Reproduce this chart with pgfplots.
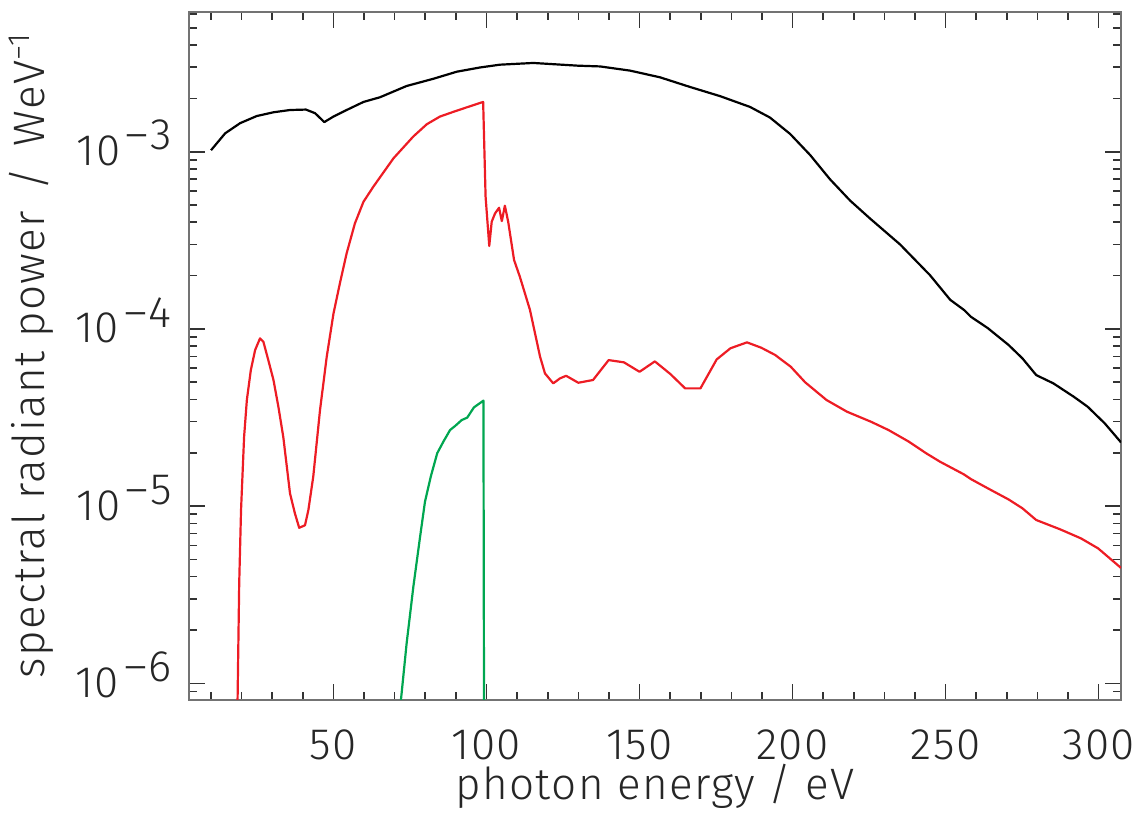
\documentclass[border=0pt]{standalone}
\usepackage{fontspec}
\setmainfont{Fira Sans Light}[LetterSpace=3]
\usepackage{pgfplots}
\pgfplotsset{compat=1.18}
\definecolor{cred}{HTML}{ED1C24}
\definecolor{cgreen}{HTML}{00A650}
\newcommand{\tenpow}[1]{10\raisebox{0.36em}{\kern0.12em–\kern0.04em#1}}
\begin{document}
\fontsize{22pt}{26pt}\selectfont
\begin{tikzpicture}
\begin{axis}[
  scale only axis,
  width=466.15pt, height=344pt,
  ymode=log,
  xmin=2.7, xmax=307.3,
  ymin=8.08e-7, ymax=6.17e-3,
  xtick={50,100,150,200,250,300},
  minor xtick={10,20,30,40,60,70,80,90,110,120,130,140,160,170,180,190,210,220,230,240,260,270,280,290},
  ytick={1e-6,1e-5,1e-4,1e-3},
  yticklabels={\tenpow{6},\tenpow{5},\tenpow{4},\tenpow{3}},
  minor ytick={9e-7,2e-6,3e-6,4e-6,5e-6,6e-6,7e-6,8e-6,9e-6,2e-5,3e-5,4e-5,5e-5,6e-5,7e-5,8e-5,9e-5,2e-4,3e-4,4e-4,5e-4,6e-4,7e-4,8e-4,9e-4,2e-3,3e-3,4e-3,5e-3,6e-3},
  tick align=inside,
  major tick length=8pt,
  minor tick length=4pt,
  axis line style={black!55, line width=1pt},
  tick style={black!80, line width=0.8pt},
  xticklabel style={anchor=base, inner sep=0pt, yshift=-30pt, font=\fontsize{22pt}{26pt}\selectfont, text=black!85},
  yticklabel style={anchor=base east, inner sep=0pt, xshift=-8.3pt, yshift=-7pt, font=\fontsize{22pt}{26pt}\selectfont, text=black!85},
  /pgf/number format/assume math mode=true,
  xlabel={photon energy / eV},
  ylabel={spectral radiant power \,/\, WeV\textsuperscript{−1}},
  every axis x label/.style={at={(axis description cs:0.5,-0.1453)}, anchor=base, font=\fontsize{22pt}{26pt}\selectfont, text=black!85},
  every axis y label/.style={at={(axis description cs:-0.1545,0.5)}, anchor=base, rotate=90, font=\fontsize{22pt}{26pt}\selectfont, text=black!85},
  every axis plot/.append style={line width=1.1pt, line join=round},
]
\addplot[black] coordinates {
(10.0,1.02e-3)(14.6,1.27e-3)(19.5,1.45e-3)(24.9,1.59e-3)(30.4,1.67e-3)(35.8,1.72e-3)(41.0,1.73e-3)(44.0,1.65e-3)(47.0,1.47e-3)(50.0,1.58e-3)(54.3,1.72e-3)(59.8,1.91e-3)(65.2,2.03e-3)(73.9,2.35e-3)(82.6,2.58e-3)(90.3,2.83e-3)(97.9,2.99e-3)(104.4,3.10e-3)(115.3,3.17e-3)(121.8,3.12e-3)(129.9,3.06e-3)(137.1,3.03e-3)(146.9,2.87e-3)(156.7,2.63e-3)(166.5,2.32e-3)(176.3,2.06e-3)(186.1,1.79e-3)(192.6,1.56e-3)(199.2,1.26e-3)(205.7,9.6e-4)(212.2,7.0e-4)(218.8,5.3e-4)(225.3,4.2e-4)(235.1,3.0e-4)(244.9,2.01e-4)(251.5,1.46e-4)(256.0,1.28e-4)(258.3,1.17e-4)(263.8,1.01e-4)(270.6,8.11e-5)(275.1,6.82e-5)(279.6,5.49e-5)(285.2,4.93e-5)(291.9,4.14e-5)(296.4,3.64e-5)(302.0,2.93e-5)(307.3,2.29e-5)
};
\addplot[cred] coordinates {
(18.5,5e-7)(19.2,3.66e-6)(19.8,9.5e-6)(20.8,2.46e-5)(21.7,3.97e-5)(23.0,5.86e-5)(24.4,7.60e-5)(26.0,8.85e-5)(27.1,8.47e-5)(28.7,6.68e-5)(30.4,5.15e-5)(32.0,3.64e-5)(33.6,2.46e-5)(35.8,1.18e-5)(37.4,9.1e-6)(38.8,7.55e-6)(40.7,7.8e-6)(41.8,9.5e-6)(43.4,1.47e-5)(45.6,3.48e-5)(47.8,6.97e-5)(50.0,1.22e-4)(52.1,1.81e-4)(54.3,2.67e-4)(57.0,3.94e-4)(59.8,5.22e-4)(63.0,6.34e-4)(69.6,9.18e-4)(76.1,1.22e-3)(80.5,1.43e-3)(84.8,1.58e-3)(89.2,1.68e-3)(93.5,1.78e-3)(98.9,1.91e-3)(99.7,5.57e-4)(100.9,2.94e-4)(101.7,4.03e-4)(102.8,4.49e-4)(104.1,4.83e-4)(105.0,4.06e-4)(106.0,4.96e-4)(107.1,4.01e-4)(109.0,2.45e-4)(110.9,1.97e-4)(114.2,1.28e-4)(117.5,6.97e-5)(119.1,5.61e-5)(121.8,4.93e-5)(124.0,5.26e-5)(126.0,5.44e-5)(130.0,4.97e-5)(134.8,5.15e-5)(139.9,6.67e-5)(144.9,6.48e-5)(150.0,5.73e-5)(155.0,6.56e-5)(160.1,5.56e-5)(164.9,4.62e-5)(169.9,4.62e-5)(175.2,6.73e-5)(179.7,7.78e-5)(185.1,8.40e-5)(189.8,7.83e-5)(194.3,7.13e-5)(199.4,6.12e-5)(204.1,5.00e-5)(211.1,3.97e-5)(217.8,3.41e-5)(225.7,2.99e-5)(231.3,2.69e-5)(238.0,2.31e-5)(243.6,1.99e-5)(248.2,1.78e-5)(256.0,1.51e-5)(258.3,1.42e-5)(263.8,1.26e-5)(270.6,1.09e-5)(275.1,9.72e-6)(279.6,8.35e-6)(287.4,7.40e-6)(294.2,6.58e-6)(299.8,5.78e-6)(307.3,4.48e-6)
};
\addplot[cgreen] coordinates {
(71.3,6e-7)(73.9,1.68e-6)(76.1,3.51e-6)(78.3,6.72e-6)(79.9,1.06e-5)(81.8,1.47e-5)(83.9,1.99e-5)(85.9,2.31e-5)(88.1,2.69e-5)(89.7,2.83e-5)(91.9,3.06e-5)(93.7,3.16e-5)(95.9,3.61e-5)(99.0,3.94e-5)(99.2,5e-7)
};
\end{axis}
\pgfresetboundingbox
\path ([shift={(-94.35pt,-57.15pt)}]current axis.south west) rectangle ([shift={(9pt,5.85pt)}]current axis.north east);
\end{tikzpicture}
\end{document}
